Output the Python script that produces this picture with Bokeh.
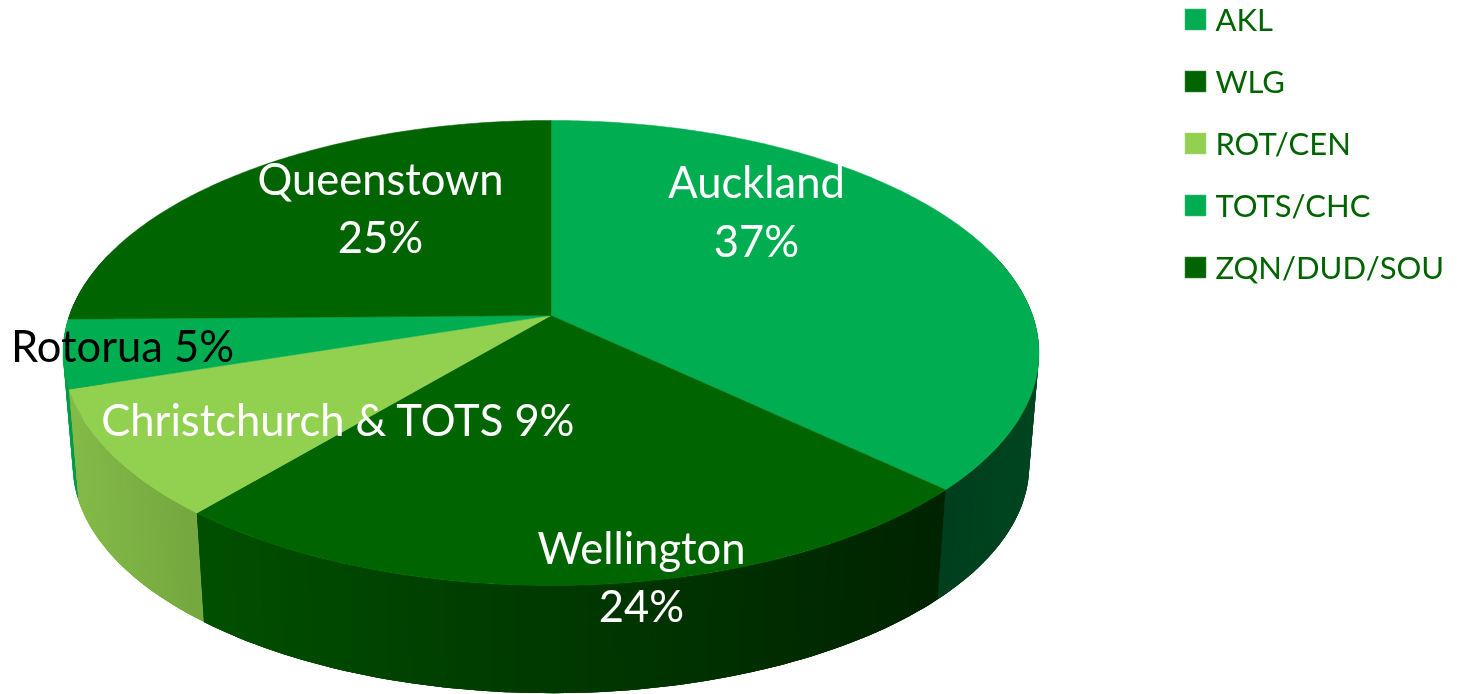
import numpy as np
from bokeh.plotting import figure
from bokeh.models import Range1d, ColumnDataSource, Legend, LegendItem
from bokeh.core.properties import value
from bokeh.embed import file_html
from bokeh.resources import INLINE

# data
codes = ["AKL", "WLG", "ROT/CEN", "TOTS/CHC", "ZQN/DUD/SOU"]
shares = [37, 24.15, 8.85, 4.75, 25.25]
label_lines = ["Auckland", "37%", "Wellington", "24%", "Christchurch & TOTS 9%", "Rotorua 5%", "Queenstown", "25%"]

# style
colors = ["#00AD50", "#006400", "#92D050", "#00AD50", "#006400"]
W, H = 1457, 694
cx, cy0 = 550.5, 315.0          # projected centre of the top face
kp = 75 / 465                   # perspective strength
Ax, By = 481.6, 226.5
depth_scale, base_y = 0.98, 428.0
label_x = [756, 756, 641, 641, 338, 122, 380, 380]
label_y = [180, 239, 546, 604, 418, 344, 177, 235]
label_c = ["white", "white", "white", "white", "white", "black", "white", "white"]
LABEL_FONT, LEGEND_FONT = "Lato", "Lato"


def top(t):
    u, v = np.sin(t), -np.cos(t)
    w = 1 - kp * v
    return cx + Ax * u / w, cy0 + By * v / w


def bottom(t):
    x, y = top(t)
    return cx + depth_scale * (x - cx), base_y + depth_scale * (y - cy0)


def shade(hexcolor, f):
    r, g, b = (int(hexcolor[i:i + 2], 16) for i in (1, 3, 5))
    return "#%02x%02x%02x" % (int(r * f), int(g * f), int(b * f))


def factor(x):
    return np.interp(x, [70, 205, 550, 937, 1030], [0.90, 0.80, 0.58, 0.36, 0.40])


p = figure(width=W, height=H, x_range=Range1d(0, W), y_range=Range1d(H, 0),
           output_backend="svg", toolbar_location=None, min_border=0,
           outline_line_color=None, background_fill_color="white",
           border_fill_color="white")
p.axis.visible = False
p.grid.visible = False
p.styles = {"position": "fixed", "left": "0px", "top": "0px"}

edges = np.cumsum([0] + shares) / sum(shares) * 2 * np.pi

# side wall: each slice gets a solid underlay, then overlapping shade bands, back to front
layers = []
for i, c in enumerate(colors):
    ts = np.linspace(edges[i], edges[i + 1], max(3, int(shares[i] * 3)))
    ts = ts[np.cos(ts) < 0.3]
    if len(ts) < 2:
        continue
    depth = float(np.mean(-np.cos(ts)))
    xt, yt = top(ts)
    xb, yb = bottom(ts)
    layers.append((depth - 5, np.r_[xt, xb[::-1]], np.r_[yt, yb[::-1]],
                   shade(c, float(factor(xt.mean())))))
    for j in range(len(ts) - 1):
        seg = ts[j:min(j + 3, len(ts))]
        x1, y1 = top(seg)
        x2, y2 = bottom(seg)
        xm = top(ts[j:j + 2])[0].mean()
        layers.append((float(-np.cos(ts[j:j + 2]).mean()), np.r_[x1, x2[::-1]], np.r_[y1, y2[::-1]],
                       shade(c, float(factor(xm)))))
layers.sort(key=lambda s: s[0])
side = ColumnDataSource(dict(xs=[s[1] for s in layers], ys=[s[2] for s in layers],
                             col=[s[3] for s in layers]))
p.patches("xs", "ys", source=side, fill_color="col", line_color=None)

# top face
renderers = []
for i, c in enumerate(colors):
    ts = np.linspace(edges[i], edges[i + 1], max(10, int(shares[i] * 6)))
    x, y = top(ts)
    r = p.patch(np.r_[cx, x], np.r_[cy0, y], fill_color=c, line_color=c, line_width=0.5)
    renderers.append(r)

# labels
src = ColumnDataSource(dict(x=label_x, y=label_y, t=label_lines, c=label_c))
p.text("x", "y", text="t", source=src, text_color="c", text_align="center",
       text_baseline="alphabetic", text_font=value(LABEL_FONT), text_font_size="43.5px")

legend = Legend(items=[LegendItem(label=value(n), renderers=[r]) for n, r in zip(codes, renderers)],
                location=(1182.4, H - 286), orientation="vertical",
                glyph_width=26, glyph_height=26, label_standoff=7, spacing=24, padding=0, margin=0,
                border_line_color=None, background_fill_alpha=0,
                label_text_font=LEGEND_FONT, label_text_font_size="31px",
                label_text_color="#006400")
p.add_layout(legend, "center")

open("out.html", "w").write(file_html(p, INLINE))
